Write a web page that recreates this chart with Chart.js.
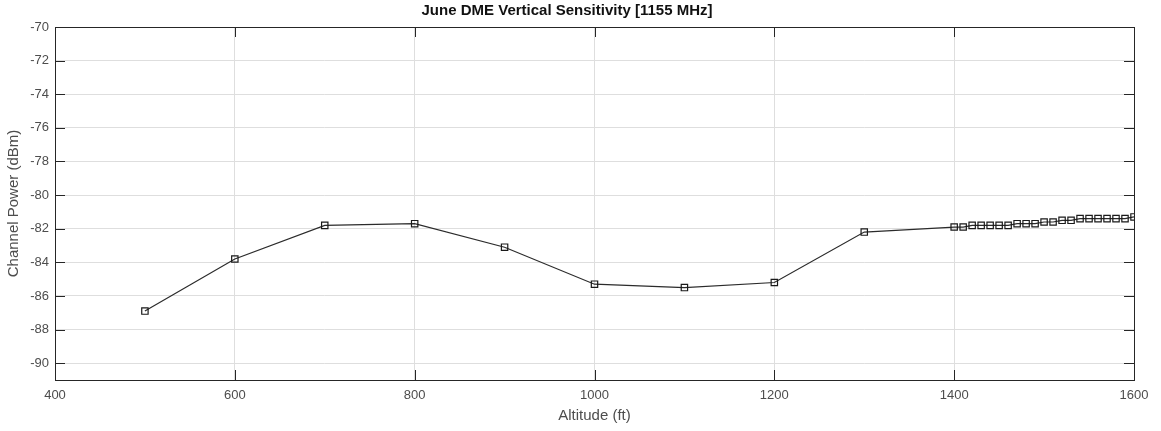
<!DOCTYPE html>
<html>
<head>
<meta charset="utf-8">
<script src="https://cdn.jsdelivr.net/npm/chart.js@4.4.0/dist/chart.umd.min.js"></script>
<style>
  html, body { margin: 0; padding: 0; background: #fff; }
  #wrap { width: 1161px; height: 431px; }
</style>
</head>
<body>
<div id="wrap"><canvas id="myChart"></canvas></div>
<script>
// altitude (ft) and channel power (dBm)
const altitude = [500, 600, 700, 800, 900, 1000, 1100, 1200, 1300,
  1400, 1410, 1420, 1430, 1440, 1450, 1460, 1470, 1480, 1490, 1500,
  1510, 1520, 1530, 1540, 1550, 1560, 1570, 1580, 1590, 1600];
const power = [-86.9, -83.8, -81.8, -81.7, -83.1, -85.3, -85.5, -85.2, -82.2,
  -81.9, -81.9, -81.8, -81.8, -81.8, -81.8, -81.8, -81.7, -81.7, -81.7, -81.6,
  -81.6, -81.5, -81.5, -81.4, -81.4, -81.4, -81.4, -81.4, -81.4, -81.3];
const xTicks = [400, 600, 800, 1000, 1200, 1400, 1600];
const yTicks = [-90, -88, -86, -84, -82, -80, -78, -76, -74, -72, -70];

const ctx = document.getElementById("myChart");
const labelColor = "#4d4d4d";

// matlab style box with inward tick marks
const boxTicks = {
  id: "boxTicks",
  afterDatasetsDraw(chart) {
    const { ctx, chartArea: a, scales } = chart;
    ctx.save();
    ctx.strokeStyle = "#262626";
    ctx.lineWidth = 1;
    ctx.beginPath();
    xTicks.forEach((v) => {
      const px = Math.round(scales.x.getPixelForValue(v)) + 0.5;
      ctx.moveTo(px, a.bottom); ctx.lineTo(px, a.bottom - 10);
      ctx.moveTo(px, a.top); ctx.lineTo(px, a.top + 10);
    });
    yTicks.forEach((v) => {
      const py = Math.round(scales.y.getPixelForValue(v)) + 0.5;
      ctx.moveTo(a.left, py); ctx.lineTo(a.left + 10, py);
      ctx.moveTo(a.right, py); ctx.lineTo(a.right - 10, py);
    });
    ctx.stroke();
    ctx.strokeRect(Math.round(a.left) + 0.5, Math.round(a.top) + 0.5,
      Math.round(a.right - a.left), Math.round(a.bottom - a.top));
    ctx.restore();
  },
};

Chart.defaults.font.family = "'Liberation Sans', Arial, sans-serif";

new Chart(ctx, {
  type: "line",
  data: {
    datasets: [
      {
        data: altitude.map((a, i) => ({ x: a, y: power[i] })),
        borderColor: "#2b2b2b",
        borderWidth: 1.2,
        pointStyle: "rect",
        pointRadius: 4.5,
        pointBorderWidth: 1.2,
        pointBorderColor: "#1a1a1a",
        pointBackgroundColor: "rgba(0,0,0,0)",
        tension: 0,
      },
    ],
  },
  options: {
    responsive: true,
    maintainAspectRatio: false,
    animation: false,
    layout: { padding: { left: 0, right: 27, top: 0, bottom: 0 } },
    plugins: {
      legend: { display: false },
      tooltip: { enabled: false },
      title: {
        display: true,
        text: "June DME Vertical Sensitivity [1155 MHz]",
        color: "#111",
        font: { size: 15, weight: "bold" },
        padding: { top: 2, bottom: 7 },
      },
    },
    scales: {
      x: {
        type: "linear",
        min: 400,
        max: 1600,
        afterFit: (s) => { s.height = 51; },
        afterBuildTicks: (s) => { s.ticks = xTicks.map((v) => ({ value: v })); },
        grid: { color: "#dedede", drawTicks: false },
        border: { display: false },
        ticks: {
          color: labelColor,
          font: { size: 13 },
          padding: 8,
          callback: (v) => String(v),
        },
        title: {
          display: true,
          text: "Altitude (ft)",
          color: labelColor,
          font: { size: 15 },
          padding: { top: 0, bottom: 6 },
        },
      },
      y: {
        min: -91,
        max: -70,
        afterFit: (s) => { s.width = 55; },
        afterBuildTicks: (s) => { s.ticks = yTicks.map((v) => ({ value: v })); },
        grid: { color: "#dedede", drawTicks: false },
        border: { display: false },
        ticks: { color: labelColor, font: { size: 13 }, padding: 6 },
        title: {
          display: true,
          text: "Channel Power (dBm)",
          color: labelColor,
          font: { size: 15 },
          padding: { top: 5, bottom: 0 },
        },
      },
    },
  },
  plugins: [boxTicks],
});
</script>
</body>
</html>
